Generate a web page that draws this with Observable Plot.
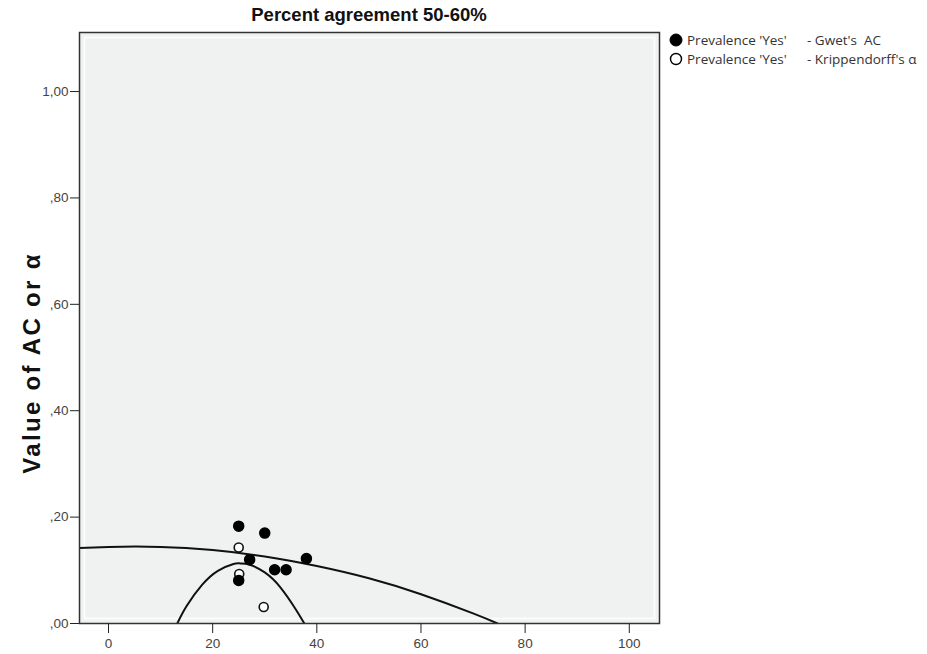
<!DOCTYPE html>
<html>
<head>
<meta charset="utf-8">
<script src="https://cdn.jsdelivr.net/npm/d3@7"></script>
<script src="https://cdn.jsdelivr.net/npm/@observablehq/plot@0.6"></script>
<style>
  body { margin: 0; background: #fff; }
  #wrap { position: relative; width: 927px; height: 654px; }
  #title { position: absolute; left: 79px; width: 580px; top: 4px; text-align: center;
           font: bold 18.5px "Liberation Sans", Arial, sans-serif; color: #111; }
  #legend { position: absolute; left: 668px; top: 31px; font: 13.5px "Open Sans", sans-serif; color: #333; }
  .row { display: flex; align-items: center; height: 18.5px; white-space: pre; }
  .row svg { margin-right: 3px; }
  .lab1 { width: 120px; }
</style>
</head>
<body>
<div id="wrap">
  <div id="chart"></div>
  <div id="title">Percent agreement 50-60%</div>
  <div id="legend"></div>
</div>
<script>
// Data
const gwetX = [25.0, 30.0, 27.1, 31.9, 34.1, 38.0, 25.0];
const gwetY = [0.183, 0.170, 0.120, 0.101, 0.101, 0.122, 0.081];
const kripX = [25.0, 25.1, 29.8];
const kripY = [0.143, 0.093, 0.031];
// fitted curves
const gwetFitX = [-5.6, 0, 10, 20, 30, 40, 50, 60, 70, 74.7];
const gwetFitY = [0.142, 0.144, 0.144, 0.138, 0.126, 0.108, 0.085, 0.055, 0.019, 0.0];
const kripFitX = [13.2, 15, 18, 21, 24, 25.3, 27, 30, 33, 36, 37.6];
const kripFitY = [0.0, 0.033, 0.073, 0.099, 0.112, 0.113, 0.111, 0.096, 0.068, 0.026, 0.0];
const xTicks = [0, 20, 40, 60, 80, 100];
const yTicks = [0, 0.2, 0.4, 0.6, 0.8, 1.0];
const legendLabels = [["Prevalence 'Yes'", "- Gwet's  AC"], ["Prevalence 'Yes'", "- Krippendorff's α"]];
const yAxisTitle = "Value of AC or α";

const gwet = gwetX.map((x, i) => ({x, y: gwetY[i]}));
const krip = kripX.map((x, i) => ({x, y: kripY[i]}));
const gFit = gwetFitX.map((x, i) => ({x, y: gwetFitY[i]}));
const kFit = kripFitX.map((x, i) => ({x, y: kripFitY[i]}));

const fmtY = v => { const s = v.toFixed(2).replace(".", ","); return s.startsWith("0,") ? s.slice(1) : s; };

const chart = Plot.plot({
  width: 927,
  height: 654,
  marginLeft: 79,
  marginRight: 268,
  marginTop: 32,
  marginBottom: 31,
  style: { fontFamily: "'Liberation Sans', Arial, sans-serif", fontSize: "13.5px", color: "#333", background: "#fff" },
  x: { domain: [-5.57, 105.8], label: null },
  y: { domain: [0, 1.111], label: null },
  marks: [
    Plot.frame({ fill: "#f0f1f1" }),
    Plot.frame({ stroke: "#fbfcfc", strokeWidth: 2, inset: 5 }),
    Plot.line(kFit, { x: "x", y: "y", curve: "natural", stroke: "#111", strokeWidth: 2, clip: true }),
    Plot.line(gFit, { x: "x", y: "y", curve: "natural", stroke: "#111", strokeWidth: 2, clip: true }),
    Plot.dot(krip, { x: "x", y: "y", r: 4.5, fill: "#fff", stroke: "#111", strokeWidth: 1.6 }),
    Plot.dot(gwet, { x: "x", y: "y", r: 5, fill: "#000", stroke: "#000" }),
    Plot.frame({ stroke: "#333", strokeWidth: 1.5 }),
    Plot.axisX({ ticks: xTicks, tickSize: 10, tickPadding: 5, stroke: "#222", fill: "#444", fontSize: 13.5 }),
    Plot.axisY({ ticks: yTicks, tickSize: 9, tickPadding: 2, tickFormat: fmtY, stroke: "#222", fill: "#444", fontSize: 13.5 }),
    Plot.text([yAxisTitle], { frameAnchor: "left", textAnchor: "middle", dx: -47, dy: 35, rotate: -90,
      fontSize: 24, fontWeight: "bold", fill: "#111" })
  ]
});
d3.select(chart).selectAll("text").filter(function () { return this.textContent === yAxisTitle; })
  .attr("letter-spacing", "2.3px").style("letter-spacing", "2.3px");
document.getElementById("chart").appendChild(chart);

const leg = document.getElementById("legend");
legendLabels.forEach((lab, i) => {
  const row = document.createElement("div");
  row.className = "row";
  const filled = i === 0;
  row.innerHTML = `<svg width="16" height="16"><circle cx="8" cy="8" r="${filled ? 6 : 5.5}" fill="${filled ? "#000" : "#fff"}" stroke="#000" stroke-width="${filled ? 1 : 1.4}"/></svg><span class="lab1">${lab[0]}</span><span>${lab[1]}</span>`;
  leg.appendChild(row);
});
</script>
</body>
</html>
